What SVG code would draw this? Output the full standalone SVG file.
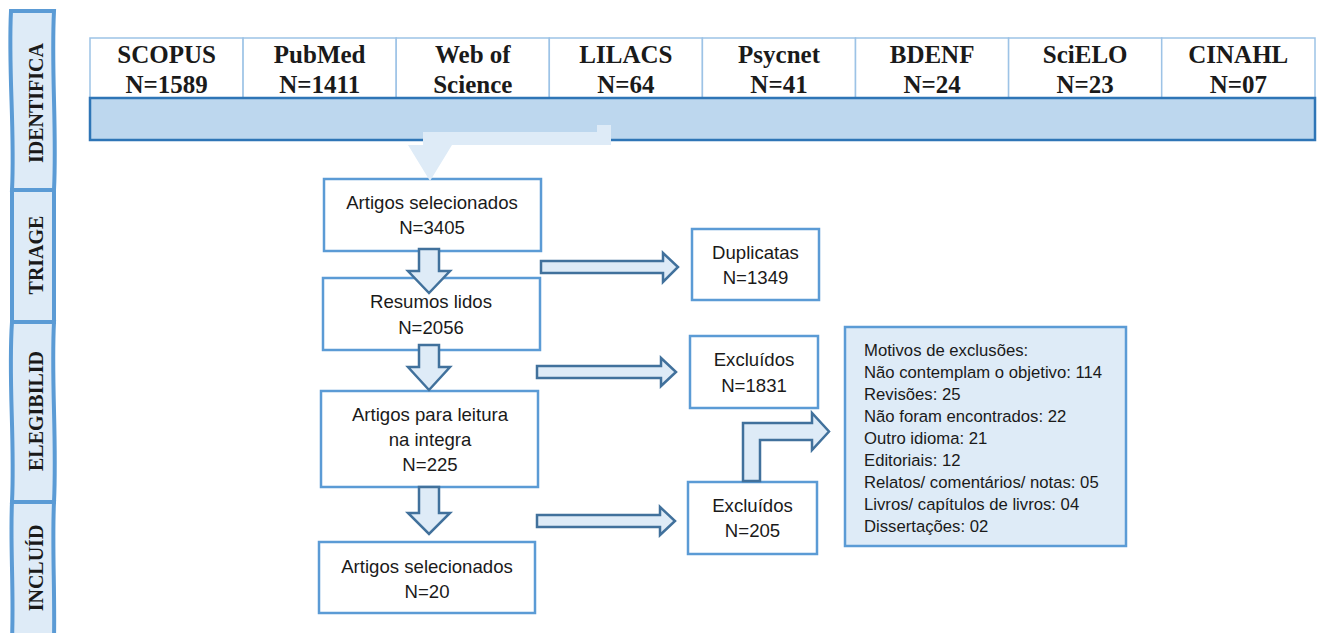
<svg xmlns="http://www.w3.org/2000/svg" width="1318" height="633" viewBox="0 0 1318 633">
<style>
.tab{fill:#deebf7;stroke:#5b9bd5;stroke-width:4}
.tabt{font-family:"Liberation Serif",serif;font-weight:bold;font-size:20px;fill:#1a1a1a;text-anchor:middle}
.cell{fill:#ffffff;stroke:#9dc3e6;stroke-width:1.5}
.hdr{font-family:"Liberation Serif",serif;font-weight:bold;font-size:25px;fill:#1a1a1a;text-anchor:middle}
.bar{fill:#bdd7ee;stroke:#2e75b6;stroke-width:2.5}
.box{fill:#ffffff;stroke:#5b9bd5;stroke-width:2.5}
.mot{fill:#deebf7;stroke:#5b9bd5;stroke-width:2.5}
.bt{font-family:"Liberation Sans",Arial,sans-serif;font-size:18.6px;fill:#1a1a1a;text-anchor:middle}
.mt{font-family:"Liberation Sans",Arial,sans-serif;font-size:16.7px;fill:#1a1a1a}
.arr{fill:#deebf7;stroke:#41719c;stroke-width:2.5;stroke-linejoin:miter}
</style>

<g id="stage-identifica">
<path class="tab" d="M11,11 L54,11 C51,70 57,130 54,190 L12,190 C15,130 8,70 11,11 Z"/>
<text class="tabt" transform="translate(43,103) rotate(-90)">IDENTIFICA</text>
</g>
<g id="stage-triage">
<path class="tab" d="M12,190 L54,190 L54,322 L12,322 Z"/>
<text class="tabt" transform="translate(43,255) rotate(-90)">TRIAGE</text>
</g>
<g id="stage-elegibilid">
<path class="tab" d="M12,322 L54,322 C51,380 57,440 54,502 L12,502 C15,440 8,380 12,322 Z"/>
<text class="tabt" transform="translate(43,411) rotate(-90)">ELEGIBILID</text>
</g>
<g id="stage-incluid">
<path class="tab" d="M12,502 L54,502 C52,545 55,590 54,640 L12,640 C14,590 10,545 12,502 Z"/>
<text class="tabt" transform="translate(43,568) rotate(-90)">INCLUÍD</text>
</g>

<g id="sources">
<rect class="cell" x="90" y="38" width="153.1" height="60"/>
<rect class="cell" x="243.1" y="38" width="153.1" height="60"/>
<rect class="cell" x="396.2" y="38" width="153.1" height="60"/>
<rect class="cell" x="549.3" y="38" width="153.1" height="60"/>
<rect class="cell" x="702.4" y="38" width="153.1" height="60"/>
<rect class="cell" x="855.5" y="38" width="153.1" height="60"/>
<rect class="cell" x="1008.6" y="38" width="153.1" height="60"/>
<rect class="cell" x="1161.7" y="38" width="153.3" height="60"/>
<text class="hdr" x="166.6" y="63">SCOPUS</text><text class="hdr" x="166.6" y="93">N=1589</text>
<text class="hdr" x="319.7" y="63">PubMed</text><text class="hdr" x="319.7" y="93">N=1411</text>
<text class="hdr" x="472.8" y="63">Web of</text><text class="hdr" x="472.8" y="93">Science</text>
<text class="hdr" x="625.9" y="63">LILACS</text><text class="hdr" x="625.9" y="93">N=64</text>
<text class="hdr" x="779" y="63">Psycnet</text><text class="hdr" x="779" y="93">N=41</text>
<text class="hdr" x="932.1" y="63">BDENF</text><text class="hdr" x="932.1" y="93">N=24</text>
<text class="hdr" x="1085.2" y="63">SciELO</text><text class="hdr" x="1085.2" y="93">N=23</text>
<text class="hdr" x="1238.3" y="63">CINAHL</text><text class="hdr" x="1238.3" y="93">N=07</text>
<rect class="bar" x="90" y="98" width="1225" height="42"/>
</g>

<g id="n1"><rect class="box" x="324" y="179" width="217" height="72"/>
<text class="bt" x="432" y="209">Artigos selecionados</text><text class="bt" x="432" y="234">N=3405</text></g>
<g id="n2"><rect class="box" x="323" y="278" width="217" height="72"/>
<text class="bt" x="431" y="308">Resumos lidos</text><text class="bt" x="431" y="334">N=2056</text></g>
<g id="n3"><rect class="box" x="321" y="391" width="217" height="96"/>
<text class="bt" x="430" y="421">Artigos para leitura</text><text class="bt" x="430" y="446">na integra</text><text class="bt" x="430" y="471">N=225</text></g>
<g id="n4"><rect class="box" x="319" y="542" width="216" height="71"/>
<text class="bt" x="427" y="573">Artigos selecionados</text><text class="bt" x="427" y="598">N=20</text></g>
<g id="dup"><rect class="box" x="692" y="229" width="127" height="71"/>
<text class="bt" x="755.5" y="259">Duplicatas</text><text class="bt" x="755.5" y="284">N=1349</text></g>
<g id="exc1"><rect class="box" x="690" y="336" width="128" height="72"/>
<text class="bt" x="754" y="366">Excluídos</text><text class="bt" x="754" y="392">N=1831</text></g>
<g id="exc2"><rect class="box" x="688" y="482" width="129" height="72"/>
<text class="bt" x="752.5" y="512">Excluídos</text><text class="bt" x="752.5" y="537">N=205</text></g>
<g id="motivos"><rect class="mot" x="845" y="327" width="281" height="219"/>
<text class="mt" x="864" y="356">Motivos de exclusões:</text>
<text class="mt" x="864" y="378">Não contemplam o objetivo: 114</text>
<text class="mt" x="864" y="400">Revisões: 25</text>
<text class="mt" x="864" y="422">Não foram encontrados: 22</text>
<text class="mt" x="864" y="444">Outro idioma: 21</text>
<text class="mt" x="864" y="466">Editoriais: 12</text>
<text class="mt" x="864" y="488">Relatos/ comentários/ notas: 05</text>
<text class="mt" x="864" y="510">Livros/ capítulos de livros: 04</text>
<text class="mt" x="864" y="532">Dissertações: 02</text></g>

<g id="connectors">
<polygon fill="#deebf7" points="423,132 597,132 597,125 611,125 611,145 452,145 430,181 408,145 423,145"/>
<polygon class="arr" points="419,249 439,249 439,271 450,271 429,293 408,271 419,271"/>
<polygon class="arr" points="419,345 439,345 439,367 450,367 429,390 408,367 419,367"/>
<polygon class="arr" points="419,487 439,487 439,513 450,513 429,534 408,513 419,513"/>
<polygon class="arr" points="541,261 663,261 663,253 678,267 663,282 663,273 541,273"/>
<polygon class="arr" points="537,366 661,366 661,358 676,372 661,386 661,378 537,378"/>
<polygon class="arr" points="537,515 660,515 660,507 675,521 660,535 660,527 537,527"/>
<polygon class="arr" points="743,481 743,423 812,423 812,413 829,431.5 812,450 812,440 760,440 760,481"/>
</g>
</svg>
